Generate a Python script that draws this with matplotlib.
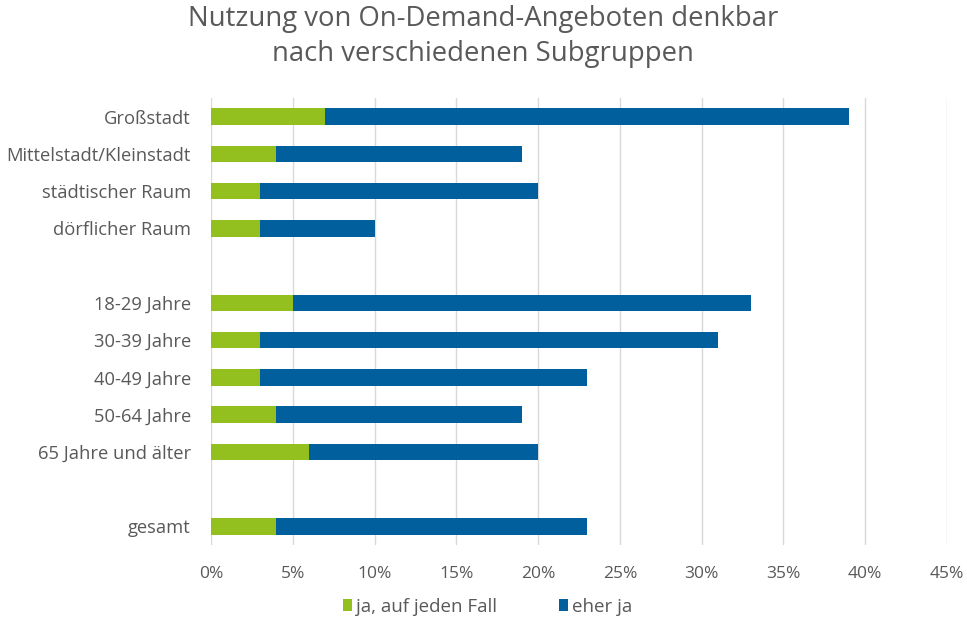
import matplotlib
matplotlib.use("Agg")
import matplotlib.pyplot as plt
from matplotlib.patches import Patch

plt.rcParams['font.family'] = ['Open Sans', 'DejaVu Sans']

categories = ["Großstadt", "Mittelstadt/Kleinstadt", "städtischer Raum", "dörflicher Raum", "",
              "18-29 Jahre", "30-39 Jahre", "40-49 Jahre", "50-64 Jahre", "65 Jahre und älter", "",
              "gesamt"]
ja_auf_jeden_fall = [7, 4, 3, 3, None, 5, 3, 3, 4, 6, None, 4]
gesamt_denkbar = [39, 19, 20, 10, None, 33, 31, 23, 19, 20, None, 23]
eher_ja = [None if t is None else t - g for g, t in zip(ja_auf_jeden_fall, gesamt_denkbar)]
x_ticks = [0, 5, 10, 15, 20, 25, 30, 35, 40, 45]
x_labels = [f"{v}%" for v in x_ticks]

GREEN = "#93C01F"
BLUE = "#005F9C"
TEXT = "#595959"

fig = plt.figure(figsize=(9.67, 6.19), dpi=100)
ax = fig.add_axes([211/967, 1-545/619, (947-211)/967, (545-98)/619])

ypos = list(range(len(categories)))
for y, g, e in zip(ypos, ja_auf_jeden_fall, eher_ja):
    if g is None:
        continue
    ax.barh(y, g, height=0.44, color=GREEN, zorder=3)
    ax.barh(y, e, left=g, height=0.44, color=BLUE, zorder=3)

ax.set_ylim(len(categories) - 0.5, -0.5)
ax.set_xlim(0, 45)
ax.set_yticks(ypos)
ax.set_yticklabels(categories, fontsize=13.2, color=TEXT)
ax.set_xticks(x_ticks)
ax.set_xticklabels(x_labels, fontsize=12.5, color=TEXT)
ax.tick_params(axis='both', length=0)
ax.tick_params(axis='x', pad=15)
ax.tick_params(axis='y', pad=14.5)
ax.grid(axis='x', color="#D9D9D9", linewidth=1, zorder=0)
for s in ax.spines.values():
    s.set_visible(False)

fig.suptitle("Nutzung von On-Demand-Angeboten denkbar\nnach verschiedenen Subgruppen",
             x=483/967, y=0.992, fontsize=19.8, color=TEXT, linespacing=1.35)

handles = [Patch(facecolor=GREEN, label="ja, auf jeden Fall"),
           Patch(facecolor=BLUE, label="eher ja")]
fig.legend(handles=handles, loc='center', bbox_to_anchor=(488/967, 1-607/619), ncol=2,
           frameon=False, fontsize=13.5, handlelength=0.45, handleheight=0.6,
           handletextpad=0.25, columnspacing=3.3, labelcolor=TEXT)

fig.savefig("out.png", dpi=100, facecolor="white")
